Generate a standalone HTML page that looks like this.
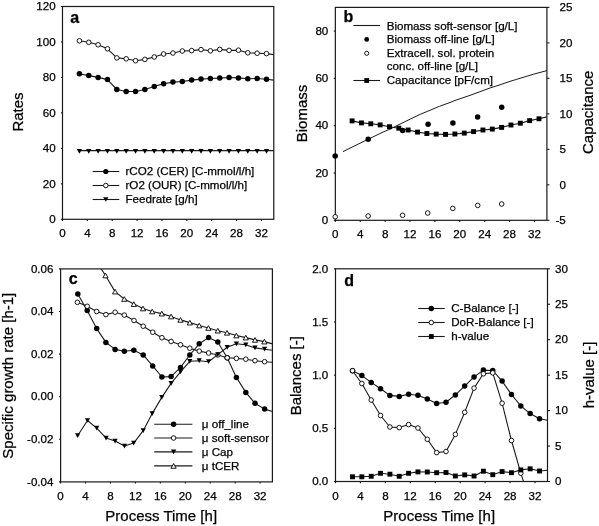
<!DOCTYPE html><html><head><meta charset="utf-8"><style>html,body{margin:0;padding:0;background:#fff;}svg{display:block;font-family:"Liberation Sans",sans-serif;}#w{width:599px;height:526px;will-change:transform;}text{stroke:#000;stroke-width:0.25px;}</style></head><body>
<div id="w"><svg width="599" height="526" viewBox="0 0 599 526">
<rect width="599" height="526" fill="#fff"/>
<defs>
<clipPath id="ca"><rect x="62.5" y="6.5" width="211.3" height="212.8"/></clipPath>
<clipPath id="cb"><rect x="335.35" y="7.4" width="211.55" height="212.9"/></clipPath>
<clipPath id="cc"><rect x="60.6" y="268.9" width="211.8" height="213"/></clipPath>
<clipPath id="cd"><rect x="335.5" y="268.8" width="212" height="212.7"/></clipPath>
</defs>
<rect x="62.5" y="6.5" width="211.3" height="212.8" fill="none" stroke="#1a1a1a" stroke-width="1.2"/>
<path d="M79.4,40.8 L88.76,42.3 L98.11,44.8 L107.47,48.8 L116.82,57.9 L126.18,58.8 L135.53,60.7 L144.88,59.4 L154.24,57 L163.6,54 L172.95,53 L182.31,51 L191.66,50.6 L201.02,49.6 L210.37,50.8 L219.73,49.4 L229.08,50.4 L238.44,50.2 L247.79,52.8 L257.14,53.2 L266.5,53.6 L273.8,54.6" fill="none" stroke="#1a1a1a" stroke-width="1.1" stroke-linejoin="round" clip-path="url(#ca)"/>
<path d="M79.4,73.8 L88.76,75.6 L98.11,77.4 L107.47,79.6 L116.82,89.5 L126.18,91.5 L135.53,91.5 L144.88,89.5 L154.24,86.4 L163.6,83.7 L172.95,82.1 L182.31,81.5 L191.66,80.1 L201.02,79.1 L210.37,78.5 L219.73,78.1 L229.08,77.5 L238.44,77.9 L247.79,78.7 L257.14,78.5 L266.5,79.3 L273.8,80.1" fill="none" stroke="#1a1a1a" stroke-width="1.1" stroke-linejoin="round" clip-path="url(#ca)"/>
<path d="M79.4,150.6 L273.8,150.6" fill="none" stroke="#1a1a1a" stroke-width="1.1" stroke-linejoin="round" clip-path="url(#ca)"/>
<circle cx="79.4" cy="40.8" r="2.3" fill="#fff" stroke="#000" stroke-width="0.9"/>
<circle cx="88.76" cy="42.3" r="2.3" fill="#fff" stroke="#000" stroke-width="0.9"/>
<circle cx="98.11" cy="44.8" r="2.3" fill="#fff" stroke="#000" stroke-width="0.9"/>
<circle cx="107.47" cy="48.8" r="2.3" fill="#fff" stroke="#000" stroke-width="0.9"/>
<circle cx="116.82" cy="57.9" r="2.3" fill="#fff" stroke="#000" stroke-width="0.9"/>
<circle cx="126.18" cy="58.8" r="2.3" fill="#fff" stroke="#000" stroke-width="0.9"/>
<circle cx="135.53" cy="60.7" r="2.3" fill="#fff" stroke="#000" stroke-width="0.9"/>
<circle cx="144.88" cy="59.4" r="2.3" fill="#fff" stroke="#000" stroke-width="0.9"/>
<circle cx="154.24" cy="57" r="2.3" fill="#fff" stroke="#000" stroke-width="0.9"/>
<circle cx="163.6" cy="54" r="2.3" fill="#fff" stroke="#000" stroke-width="0.9"/>
<circle cx="172.95" cy="53" r="2.3" fill="#fff" stroke="#000" stroke-width="0.9"/>
<circle cx="182.31" cy="51" r="2.3" fill="#fff" stroke="#000" stroke-width="0.9"/>
<circle cx="191.66" cy="50.6" r="2.3" fill="#fff" stroke="#000" stroke-width="0.9"/>
<circle cx="201.02" cy="49.6" r="2.3" fill="#fff" stroke="#000" stroke-width="0.9"/>
<circle cx="210.37" cy="50.8" r="2.3" fill="#fff" stroke="#000" stroke-width="0.9"/>
<circle cx="219.73" cy="49.4" r="2.3" fill="#fff" stroke="#000" stroke-width="0.9"/>
<circle cx="229.08" cy="50.4" r="2.3" fill="#fff" stroke="#000" stroke-width="0.9"/>
<circle cx="238.44" cy="50.2" r="2.3" fill="#fff" stroke="#000" stroke-width="0.9"/>
<circle cx="247.79" cy="52.8" r="2.3" fill="#fff" stroke="#000" stroke-width="0.9"/>
<circle cx="257.14" cy="53.2" r="2.3" fill="#fff" stroke="#000" stroke-width="0.9"/>
<circle cx="266.5" cy="53.6" r="2.3" fill="#fff" stroke="#000" stroke-width="0.9"/>
<circle cx="79.4" cy="73.8" r="2.75" fill="#000"/>
<circle cx="88.76" cy="75.6" r="2.75" fill="#000"/>
<circle cx="98.11" cy="77.4" r="2.75" fill="#000"/>
<circle cx="107.47" cy="79.6" r="2.75" fill="#000"/>
<circle cx="116.82" cy="89.5" r="2.75" fill="#000"/>
<circle cx="126.18" cy="91.5" r="2.75" fill="#000"/>
<circle cx="135.53" cy="91.5" r="2.75" fill="#000"/>
<circle cx="144.88" cy="89.5" r="2.75" fill="#000"/>
<circle cx="154.24" cy="86.4" r="2.75" fill="#000"/>
<circle cx="163.6" cy="83.7" r="2.75" fill="#000"/>
<circle cx="172.95" cy="82.1" r="2.75" fill="#000"/>
<circle cx="182.31" cy="81.5" r="2.75" fill="#000"/>
<circle cx="191.66" cy="80.1" r="2.75" fill="#000"/>
<circle cx="201.02" cy="79.1" r="2.75" fill="#000"/>
<circle cx="210.37" cy="78.5" r="2.75" fill="#000"/>
<circle cx="219.73" cy="78.1" r="2.75" fill="#000"/>
<circle cx="229.08" cy="77.5" r="2.75" fill="#000"/>
<circle cx="238.44" cy="77.9" r="2.75" fill="#000"/>
<circle cx="247.79" cy="78.7" r="2.75" fill="#000"/>
<circle cx="257.14" cy="78.5" r="2.75" fill="#000"/>
<circle cx="266.5" cy="79.3" r="2.75" fill="#000"/>
<path d="M76.8,149.06 L82,149.06 L79.4,153.74 Z" fill="#000"/>
<path d="M86.16,149.06 L91.36,149.06 L88.76,153.74 Z" fill="#000"/>
<path d="M95.51,149.06 L100.71,149.06 L98.11,153.74 Z" fill="#000"/>
<path d="M104.87,149.06 L110.06,149.06 L107.47,153.74 Z" fill="#000"/>
<path d="M114.22,149.06 L119.42,149.06 L116.82,153.74 Z" fill="#000"/>
<path d="M123.58,149.06 L128.78,149.06 L126.18,153.74 Z" fill="#000"/>
<path d="M132.93,149.06 L138.13,149.06 L135.53,153.74 Z" fill="#000"/>
<path d="M142.28,149.06 L147.48,149.06 L144.88,153.74 Z" fill="#000"/>
<path d="M151.64,149.06 L156.84,149.06 L154.24,153.74 Z" fill="#000"/>
<path d="M161,149.06 L166.2,149.06 L163.6,153.74 Z" fill="#000"/>
<path d="M170.35,149.06 L175.55,149.06 L172.95,153.74 Z" fill="#000"/>
<path d="M179.71,149.06 L184.91,149.06 L182.31,153.74 Z" fill="#000"/>
<path d="M189.06,149.06 L194.26,149.06 L191.66,153.74 Z" fill="#000"/>
<path d="M198.42,149.06 L203.62,149.06 L201.02,153.74 Z" fill="#000"/>
<path d="M207.77,149.06 L212.97,149.06 L210.37,153.74 Z" fill="#000"/>
<path d="M217.13,149.06 L222.33,149.06 L219.73,153.74 Z" fill="#000"/>
<path d="M226.48,149.06 L231.68,149.06 L229.08,153.74 Z" fill="#000"/>
<path d="M235.84,149.06 L241.03,149.06 L238.44,153.74 Z" fill="#000"/>
<path d="M245.19,149.06 L250.39,149.06 L247.79,153.74 Z" fill="#000"/>
<path d="M254.54,149.06 L259.75,149.06 L257.14,153.74 Z" fill="#000"/>
<path d="M263.9,149.06 L269.1,149.06 L266.5,153.74 Z" fill="#000"/>
<line x1="62.5" y1="219.3" x2="62.5" y2="221" stroke="#1a1a1a" stroke-width="1.1"/>
<text x="62.5" y="236.6" font-size="11.6" text-anchor="middle" font-weight="normal">0</text>
<line x1="87.36" y1="219.3" x2="87.36" y2="221" stroke="#1a1a1a" stroke-width="1.1"/>
<text x="87.36" y="236.6" font-size="11.6" text-anchor="middle" font-weight="normal">4</text>
<line x1="112.23" y1="219.3" x2="112.23" y2="221" stroke="#1a1a1a" stroke-width="1.1"/>
<text x="112.23" y="236.6" font-size="11.6" text-anchor="middle" font-weight="normal">8</text>
<line x1="137.09" y1="219.3" x2="137.09" y2="221" stroke="#1a1a1a" stroke-width="1.1"/>
<text x="137.09" y="236.6" font-size="11.6" text-anchor="middle" font-weight="normal">12</text>
<line x1="161.96" y1="219.3" x2="161.96" y2="221" stroke="#1a1a1a" stroke-width="1.1"/>
<text x="161.96" y="236.6" font-size="11.6" text-anchor="middle" font-weight="normal">16</text>
<line x1="186.82" y1="219.3" x2="186.82" y2="221" stroke="#1a1a1a" stroke-width="1.1"/>
<text x="186.82" y="236.6" font-size="11.6" text-anchor="middle" font-weight="normal">20</text>
<line x1="211.68" y1="219.3" x2="211.68" y2="221" stroke="#1a1a1a" stroke-width="1.1"/>
<text x="211.68" y="236.6" font-size="11.6" text-anchor="middle" font-weight="normal">24</text>
<line x1="236.55" y1="219.3" x2="236.55" y2="221" stroke="#1a1a1a" stroke-width="1.1"/>
<text x="236.55" y="236.6" font-size="11.6" text-anchor="middle" font-weight="normal">28</text>
<line x1="261.41" y1="219.3" x2="261.41" y2="221" stroke="#1a1a1a" stroke-width="1.1"/>
<text x="261.41" y="236.6" font-size="11.6" text-anchor="middle" font-weight="normal">32</text>
<line x1="60.9" y1="219.3" x2="62.5" y2="219.3" stroke="#1a1a1a" stroke-width="1.1"/>
<text x="55.6" y="223" font-size="11.6" text-anchor="end" font-weight="normal">0</text>
<line x1="60.9" y1="183.83" x2="62.5" y2="183.83" stroke="#1a1a1a" stroke-width="1.1"/>
<text x="55.6" y="187.53" font-size="11.6" text-anchor="end" font-weight="normal">20</text>
<line x1="60.9" y1="148.37" x2="62.5" y2="148.37" stroke="#1a1a1a" stroke-width="1.1"/>
<text x="55.6" y="152.07" font-size="11.6" text-anchor="end" font-weight="normal">40</text>
<line x1="60.9" y1="112.9" x2="62.5" y2="112.9" stroke="#1a1a1a" stroke-width="1.1"/>
<text x="55.6" y="116.6" font-size="11.6" text-anchor="end" font-weight="normal">60</text>
<line x1="60.9" y1="77.43" x2="62.5" y2="77.43" stroke="#1a1a1a" stroke-width="1.1"/>
<text x="55.6" y="81.13" font-size="11.6" text-anchor="end" font-weight="normal">80</text>
<line x1="60.9" y1="41.97" x2="62.5" y2="41.97" stroke="#1a1a1a" stroke-width="1.1"/>
<text x="55.6" y="45.67" font-size="11.6" text-anchor="end" font-weight="normal">100</text>
<line x1="60.9" y1="6.5" x2="62.5" y2="6.5" stroke="#1a1a1a" stroke-width="1.1"/>
<text x="55.6" y="10.2" font-size="11.6" text-anchor="end" font-weight="normal">120</text>
<text x="70.3" y="22.6" font-size="16" text-anchor="start" font-weight="bold">a</text>
<text x="23.4" y="112" font-size="15" text-anchor="middle" font-weight="normal" transform="rotate(-90 23.4 112)">Rates</text>
<line x1="92.6" y1="171.5" x2="119.3" y2="171.5" stroke="#1a1a1a" stroke-width="1.1"/>
<circle cx="105.8" cy="171.5" r="2.6" fill="#000"/>
<text x="125.5" y="175.1" font-size="11.6" text-anchor="start" font-weight="normal">rCO2 (CER) [C-mmol/l/h]</text>
<line x1="92.6" y1="185.5" x2="119.3" y2="185.5" stroke="#1a1a1a" stroke-width="1.1"/>
<circle cx="105.8" cy="185.5" r="2.25" fill="#fff" stroke="#000" stroke-width="0.9"/>
<text x="125.5" y="189.1" font-size="11.6" text-anchor="start" font-weight="normal">rO2 (OUR) [C-mmol/l/h]</text>
<line x1="92.6" y1="199.5" x2="119.3" y2="199.5" stroke="#1a1a1a" stroke-width="1.1"/>
<path d="M103.2,197.16 L108.4,197.16 L105.8,201.84 Z" fill="#000"/>
<text x="125.5" y="203.1" font-size="11.6" text-anchor="start" font-weight="normal">Feedrate [g/h]</text>
<rect x="335.35" y="7.4" width="211.55" height="212.9" fill="none" stroke="#1a1a1a" stroke-width="1.2"/>
<path d="M343,151.62 L358,144.19 L368.1,139.31 L383.1,132 L390,129.14 L400,124.12 L410.1,119.15 L420.1,114.41 L430.1,110.24 L439.6,106.26 L450,102.47 L455,100.45 L470,95.36 L490.1,87.95 L500,84.79 L510,81.37 L516.7,79.34 L533.4,74.23 L547.4,70.49" fill="none" stroke="#1a1a1a" stroke-width="1.0" stroke-linejoin="round" clip-path="url(#cb)"/>
<path d="M352.1,120.9 L361.45,122.9 L370.79,123.8 L380.14,124.9 L389.48,126.7 L398.83,128.2 L408.17,130 L417.52,132.1 L426.86,133.5 L436.21,134.1 L445.55,134.4 L454.9,134 L464.24,133.1 L473.59,131.6 L482.93,130 L492.28,129.1 L501.62,127.4 L510.97,125 L520.31,123.2 L529.65,120.6 L539,118.8 L546.9,116.9" fill="none" stroke="#1a1a1a" stroke-width="1.1" stroke-linejoin="round" clip-path="url(#cb)"/>
<rect x="349.65" y="118.45" width="4.9" height="4.9" fill="#000"/>
<rect x="359" y="120.45" width="4.9" height="4.9" fill="#000"/>
<rect x="368.34" y="121.35" width="4.9" height="4.9" fill="#000"/>
<rect x="377.69" y="122.45" width="4.9" height="4.9" fill="#000"/>
<rect x="387.03" y="124.25" width="4.9" height="4.9" fill="#000"/>
<rect x="396.38" y="125.75" width="4.9" height="4.9" fill="#000"/>
<rect x="405.72" y="127.55" width="4.9" height="4.9" fill="#000"/>
<rect x="415.07" y="129.65" width="4.9" height="4.9" fill="#000"/>
<rect x="424.41" y="131.05" width="4.9" height="4.9" fill="#000"/>
<rect x="433.76" y="131.65" width="4.9" height="4.9" fill="#000"/>
<rect x="443.1" y="131.95" width="4.9" height="4.9" fill="#000"/>
<rect x="452.45" y="131.55" width="4.9" height="4.9" fill="#000"/>
<rect x="461.79" y="130.65" width="4.9" height="4.9" fill="#000"/>
<rect x="471.14" y="129.15" width="4.9" height="4.9" fill="#000"/>
<rect x="480.48" y="127.55" width="4.9" height="4.9" fill="#000"/>
<rect x="489.83" y="126.65" width="4.9" height="4.9" fill="#000"/>
<rect x="499.17" y="124.95" width="4.9" height="4.9" fill="#000"/>
<rect x="508.52" y="122.55" width="4.9" height="4.9" fill="#000"/>
<rect x="517.86" y="120.75" width="4.9" height="4.9" fill="#000"/>
<rect x="527.2" y="118.15" width="4.9" height="4.9" fill="#000"/>
<rect x="536.55" y="116.35" width="4.9" height="4.9" fill="#000"/>
<circle cx="335.2" cy="156" r="2.75" fill="#000"/>
<circle cx="368.2" cy="139.3" r="2.75" fill="#000"/>
<circle cx="402.6" cy="130.4" r="2.75" fill="#000"/>
<circle cx="428.1" cy="124.2" r="2.75" fill="#000"/>
<circle cx="452.9" cy="123" r="2.75" fill="#000"/>
<circle cx="477.6" cy="116.9" r="2.75" fill="#000"/>
<circle cx="501.7" cy="107.2" r="2.75" fill="#000"/>
<circle cx="335.2" cy="216.8" r="2.3" fill="#fff" stroke="#000" stroke-width="0.9"/>
<circle cx="368.1" cy="216" r="2.3" fill="#fff" stroke="#000" stroke-width="0.9"/>
<circle cx="402.6" cy="215.3" r="2.3" fill="#fff" stroke="#000" stroke-width="0.9"/>
<circle cx="427.7" cy="213" r="2.3" fill="#fff" stroke="#000" stroke-width="0.9"/>
<circle cx="452.8" cy="208.4" r="2.3" fill="#fff" stroke="#000" stroke-width="0.9"/>
<circle cx="477.7" cy="205.4" r="2.3" fill="#fff" stroke="#000" stroke-width="0.9"/>
<circle cx="501.7" cy="204" r="2.3" fill="#fff" stroke="#000" stroke-width="0.9"/>
<line x1="335.35" y1="220.3" x2="335.35" y2="222" stroke="#1a1a1a" stroke-width="1.1"/>
<text x="335.35" y="237.6" font-size="11.6" text-anchor="middle" font-weight="normal">0</text>
<line x1="360.24" y1="220.3" x2="360.24" y2="222" stroke="#1a1a1a" stroke-width="1.1"/>
<text x="360.24" y="237.6" font-size="11.6" text-anchor="middle" font-weight="normal">4</text>
<line x1="385.13" y1="220.3" x2="385.13" y2="222" stroke="#1a1a1a" stroke-width="1.1"/>
<text x="385.13" y="237.6" font-size="11.6" text-anchor="middle" font-weight="normal">8</text>
<line x1="410.01" y1="220.3" x2="410.01" y2="222" stroke="#1a1a1a" stroke-width="1.1"/>
<text x="410.01" y="237.6" font-size="11.6" text-anchor="middle" font-weight="normal">12</text>
<line x1="434.9" y1="220.3" x2="434.9" y2="222" stroke="#1a1a1a" stroke-width="1.1"/>
<text x="434.9" y="237.6" font-size="11.6" text-anchor="middle" font-weight="normal">16</text>
<line x1="459.79" y1="220.3" x2="459.79" y2="222" stroke="#1a1a1a" stroke-width="1.1"/>
<text x="459.79" y="237.6" font-size="11.6" text-anchor="middle" font-weight="normal">20</text>
<line x1="484.68" y1="220.3" x2="484.68" y2="222" stroke="#1a1a1a" stroke-width="1.1"/>
<text x="484.68" y="237.6" font-size="11.6" text-anchor="middle" font-weight="normal">24</text>
<line x1="509.57" y1="220.3" x2="509.57" y2="222" stroke="#1a1a1a" stroke-width="1.1"/>
<text x="509.57" y="237.6" font-size="11.6" text-anchor="middle" font-weight="normal">28</text>
<line x1="534.45" y1="220.3" x2="534.45" y2="222" stroke="#1a1a1a" stroke-width="1.1"/>
<text x="534.45" y="237.6" font-size="11.6" text-anchor="middle" font-weight="normal">32</text>
<line x1="333.75" y1="220.3" x2="335.35" y2="220.3" stroke="#1a1a1a" stroke-width="1.1"/>
<text x="328.3" y="224" font-size="11.6" text-anchor="end" font-weight="normal">0</text>
<line x1="333.75" y1="172.99" x2="335.35" y2="172.99" stroke="#1a1a1a" stroke-width="1.1"/>
<text x="328.3" y="176.69" font-size="11.6" text-anchor="end" font-weight="normal">20</text>
<line x1="333.75" y1="125.68" x2="335.35" y2="125.68" stroke="#1a1a1a" stroke-width="1.1"/>
<text x="328.3" y="129.38" font-size="11.6" text-anchor="end" font-weight="normal">40</text>
<line x1="333.75" y1="78.37" x2="335.35" y2="78.37" stroke="#1a1a1a" stroke-width="1.1"/>
<text x="328.3" y="82.07" font-size="11.6" text-anchor="end" font-weight="normal">60</text>
<line x1="333.75" y1="31.06" x2="335.35" y2="31.06" stroke="#1a1a1a" stroke-width="1.1"/>
<text x="328.3" y="34.76" font-size="11.6" text-anchor="end" font-weight="normal">80</text>
<line x1="546.9" y1="220.3" x2="549.4" y2="220.3" stroke="#1a1a1a" stroke-width="1.1"/>
<text x="555.5" y="224" font-size="11.6" text-anchor="start" font-weight="normal">-5</text>
<line x1="546.9" y1="184.82" x2="549.4" y2="184.82" stroke="#1a1a1a" stroke-width="1.1"/>
<text x="559.5" y="188.52" font-size="11.6" text-anchor="start" font-weight="normal">0</text>
<line x1="546.9" y1="149.33" x2="549.4" y2="149.33" stroke="#1a1a1a" stroke-width="1.1"/>
<text x="559.5" y="153.03" font-size="11.6" text-anchor="start" font-weight="normal">5</text>
<line x1="546.9" y1="113.85" x2="549.4" y2="113.85" stroke="#1a1a1a" stroke-width="1.1"/>
<text x="559.5" y="117.55" font-size="11.6" text-anchor="start" font-weight="normal">10</text>
<line x1="546.9" y1="78.37" x2="549.4" y2="78.37" stroke="#1a1a1a" stroke-width="1.1"/>
<text x="559.5" y="82.07" font-size="11.6" text-anchor="start" font-weight="normal">15</text>
<line x1="546.9" y1="42.88" x2="549.4" y2="42.88" stroke="#1a1a1a" stroke-width="1.1"/>
<text x="559.5" y="46.58" font-size="11.6" text-anchor="start" font-weight="normal">20</text>
<line x1="546.9" y1="7.4" x2="549.4" y2="7.4" stroke="#1a1a1a" stroke-width="1.1"/>
<text x="559.5" y="11.1" font-size="11.6" text-anchor="start" font-weight="normal">25</text>
<text x="343.4" y="22.2" font-size="16" text-anchor="start" font-weight="bold">b</text>
<text x="306.5" y="113.5" font-size="15" text-anchor="middle" font-weight="normal" transform="rotate(-90 306.5 113.5)">Biomass</text>
<text x="593.3" y="112.3" font-size="15" text-anchor="middle" font-weight="normal" transform="rotate(-90 593.3 112.3)">Capacitance</text>
<line x1="353.4" y1="25.5" x2="380.1" y2="25.5" stroke="#1a1a1a" stroke-width="1.1"/>
<text x="386.7" y="29.6" font-size="11.6" text-anchor="start" font-weight="normal">Biomass soft-sensor [g/L]</text>
<circle cx="366.7" cy="39.4" r="2.4" fill="#000"/>
<text x="386.7" y="43.1" font-size="11.6" text-anchor="start" font-weight="normal">Biomass off-line [g/L]</text>
<circle cx="366.7" cy="53.3" r="2.05" fill="#fff" stroke="#000" stroke-width="0.9"/>
<text x="386.7" y="56.8" font-size="11.6" text-anchor="start" font-weight="normal">Extracell. sol. protein</text>
<text x="386.7" y="70.4" font-size="11.6" text-anchor="start" font-weight="normal">conc. off-line [g/L]</text>
<line x1="353.4" y1="80.5" x2="380.1" y2="80.5" stroke="#1a1a1a" stroke-width="1.1"/>
<rect x="364.3" y="78.1" width="4.8" height="4.8" fill="#000"/>
<text x="386.7" y="84.4" font-size="11.6" text-anchor="start" font-weight="normal">Capacitance [pF/cm]</text>
<rect x="60.6" y="268.9" width="211.8" height="213" fill="none" stroke="#1a1a1a" stroke-width="1.2"/>
<path d="M77.8,294 L87.2,310.5 L96.7,328.6 L105.9,342.4 L115.1,349.4 L124.3,351.2 L133.8,350.3 L143.2,354.9 L152.7,365.9 L161.9,377 L171.1,376.6 L180.5,367.4 L189.8,355 L199.2,343.8 L208.6,337.6 L217.8,342 L227.2,357.8 L236.4,377.4 L245.8,392.4 L255,403.3 L264.6,409.1 L272.4,411.5" fill="none" stroke="#1a1a1a" stroke-width="1.1" stroke-linejoin="round" clip-path="url(#cc)"/>
<circle cx="77.8" cy="294" r="2.75" fill="#000"/>
<circle cx="87.2" cy="310.5" r="2.75" fill="#000"/>
<circle cx="96.7" cy="328.6" r="2.75" fill="#000"/>
<circle cx="105.9" cy="342.4" r="2.75" fill="#000"/>
<circle cx="115.1" cy="349.4" r="2.75" fill="#000"/>
<circle cx="124.3" cy="351.2" r="2.75" fill="#000"/>
<circle cx="133.8" cy="350.3" r="2.75" fill="#000"/>
<circle cx="143.2" cy="354.9" r="2.75" fill="#000"/>
<circle cx="152.7" cy="365.9" r="2.75" fill="#000"/>
<circle cx="161.9" cy="377" r="2.75" fill="#000"/>
<circle cx="171.1" cy="376.6" r="2.75" fill="#000"/>
<circle cx="180.5" cy="367.4" r="2.75" fill="#000"/>
<circle cx="189.8" cy="355" r="2.75" fill="#000"/>
<circle cx="199.2" cy="343.8" r="2.75" fill="#000"/>
<circle cx="208.6" cy="337.6" r="2.75" fill="#000"/>
<circle cx="217.8" cy="342" r="2.75" fill="#000"/>
<circle cx="227.2" cy="357.8" r="2.75" fill="#000"/>
<circle cx="236.4" cy="377.4" r="2.75" fill="#000"/>
<circle cx="245.8" cy="392.4" r="2.75" fill="#000"/>
<circle cx="255" cy="403.3" r="2.75" fill="#000"/>
<circle cx="264.6" cy="409.1" r="2.75" fill="#000"/>
<path d="M77.4,302.3 L87.2,306.3 L96.7,311.5 L105.9,314.6 L115.1,312.2 L124.3,315.1 L134,320.5 L143.2,326.2 L152.7,332.2 L161.9,337.7 L171.1,341.5 L180.5,344.8 L189.8,348.2 L199.2,351.1 L208.6,353 L217.8,355 L227.2,357.8 L236.4,358.4 L245.8,359.2 L255,360.7 L264.6,361.7 L272.4,362.3" fill="none" stroke="#1a1a1a" stroke-width="1.1" stroke-linejoin="round" clip-path="url(#cc)"/>
<circle cx="77.4" cy="302.3" r="2.3" fill="#fff" stroke="#000" stroke-width="0.9"/>
<circle cx="87.2" cy="306.3" r="2.3" fill="#fff" stroke="#000" stroke-width="0.9"/>
<circle cx="96.7" cy="311.5" r="2.3" fill="#fff" stroke="#000" stroke-width="0.9"/>
<circle cx="105.9" cy="314.6" r="2.3" fill="#fff" stroke="#000" stroke-width="0.9"/>
<circle cx="115.1" cy="312.2" r="2.3" fill="#fff" stroke="#000" stroke-width="0.9"/>
<circle cx="124.3" cy="315.1" r="2.3" fill="#fff" stroke="#000" stroke-width="0.9"/>
<circle cx="134" cy="320.5" r="2.3" fill="#fff" stroke="#000" stroke-width="0.9"/>
<circle cx="143.2" cy="326.2" r="2.3" fill="#fff" stroke="#000" stroke-width="0.9"/>
<circle cx="152.7" cy="332.2" r="2.3" fill="#fff" stroke="#000" stroke-width="0.9"/>
<circle cx="161.9" cy="337.7" r="2.3" fill="#fff" stroke="#000" stroke-width="0.9"/>
<circle cx="171.1" cy="341.5" r="2.3" fill="#fff" stroke="#000" stroke-width="0.9"/>
<circle cx="180.5" cy="344.8" r="2.3" fill="#fff" stroke="#000" stroke-width="0.9"/>
<circle cx="189.8" cy="348.2" r="2.3" fill="#fff" stroke="#000" stroke-width="0.9"/>
<circle cx="199.2" cy="351.1" r="2.3" fill="#fff" stroke="#000" stroke-width="0.9"/>
<circle cx="208.6" cy="353" r="2.3" fill="#fff" stroke="#000" stroke-width="0.9"/>
<circle cx="217.8" cy="355" r="2.3" fill="#fff" stroke="#000" stroke-width="0.9"/>
<circle cx="227.2" cy="357.8" r="2.3" fill="#fff" stroke="#000" stroke-width="0.9"/>
<circle cx="236.4" cy="358.4" r="2.3" fill="#fff" stroke="#000" stroke-width="0.9"/>
<circle cx="245.8" cy="359.2" r="2.3" fill="#fff" stroke="#000" stroke-width="0.9"/>
<circle cx="255" cy="360.7" r="2.3" fill="#fff" stroke="#000" stroke-width="0.9"/>
<circle cx="264.6" cy="361.7" r="2.3" fill="#fff" stroke="#000" stroke-width="0.9"/>
<path d="M77.6,435.7 L87.5,420.5 L96.7,428.1 L106.1,438.1 L115.1,441.1 L124.5,446.1 L133.7,443.1 L143.2,430.7 L152.2,413.6 L161.8,397.4 L171.1,383.4 L180.5,371.9 L189.8,361.3 L199.2,360.7 L208.6,361.7 L217.8,354.6 L227.2,347.3 L236.4,343.8 L245.8,344.8 L255,347.9 L264.6,349.2 L272.4,350.2" fill="none" stroke="#1a1a1a" stroke-width="1.1" stroke-linejoin="round" clip-path="url(#cc)"/>
<path d="M75,433.36 L80.2,433.36 L77.6,438.04 Z" fill="#000"/>
<path d="M84.9,418.16 L90.1,418.16 L87.5,422.84 Z" fill="#000"/>
<path d="M94.1,425.76 L99.3,425.76 L96.7,430.44 Z" fill="#000"/>
<path d="M103.5,435.76 L108.7,435.76 L106.1,440.44 Z" fill="#000"/>
<path d="M112.5,438.76 L117.7,438.76 L115.1,443.44 Z" fill="#000"/>
<path d="M121.9,443.76 L127.1,443.76 L124.5,448.44 Z" fill="#000"/>
<path d="M131.1,440.76 L136.3,440.76 L133.7,445.44 Z" fill="#000"/>
<path d="M140.6,428.36 L145.8,428.36 L143.2,433.04 Z" fill="#000"/>
<path d="M149.6,411.26 L154.8,411.26 L152.2,415.94 Z" fill="#000"/>
<path d="M159.2,395.06 L164.4,395.06 L161.8,399.74 Z" fill="#000"/>
<path d="M168.5,381.06 L173.7,381.06 L171.1,385.74 Z" fill="#000"/>
<path d="M177.9,369.56 L183.1,369.56 L180.5,374.24 Z" fill="#000"/>
<path d="M187.2,358.96 L192.4,358.96 L189.8,363.64 Z" fill="#000"/>
<path d="M196.6,358.36 L201.8,358.36 L199.2,363.04 Z" fill="#000"/>
<path d="M206,359.36 L211.2,359.36 L208.6,364.04 Z" fill="#000"/>
<path d="M215.2,352.26 L220.4,352.26 L217.8,356.94 Z" fill="#000"/>
<path d="M224.6,344.96 L229.8,344.96 L227.2,349.64 Z" fill="#000"/>
<path d="M233.8,341.46 L239,341.46 L236.4,346.14 Z" fill="#000"/>
<path d="M243.2,342.46 L248.4,342.46 L245.8,347.14 Z" fill="#000"/>
<path d="M252.4,345.56 L257.6,345.56 L255,350.24 Z" fill="#000"/>
<path d="M262,346.86 L267.2,346.86 L264.6,351.54 Z" fill="#000"/>
<path d="M96.7,262 L105.5,275.5 L115.1,291.6 L124.3,299 L133.8,304.1 L143,308.5 L152.2,311.5 L161.8,313.6 L171.1,316.5 L180.5,319.9 L189.8,322.6 L199.2,325.5 L208.4,328 L217.8,330.7 L227,332.8 L236.4,335.5 L245.8,337.6 L255,339.9 L264.4,341.6 L272.4,343.9" fill="none" stroke="#1a1a1a" stroke-width="1.1" stroke-linejoin="round" clip-path="url(#cc)"/>
<g clip-path="url(#cc)">
<path d="M94.1,264.34 L99.3,264.34 L96.7,259.66 Z" fill="#fff" stroke="#000" stroke-width="0.9" stroke-linejoin="miter"/>
<path d="M102.9,277.84 L108.1,277.84 L105.5,273.16 Z" fill="#fff" stroke="#000" stroke-width="0.9" stroke-linejoin="miter"/>
<path d="M112.5,293.94 L117.7,293.94 L115.1,289.26 Z" fill="#fff" stroke="#000" stroke-width="0.9" stroke-linejoin="miter"/>
<path d="M121.7,301.34 L126.9,301.34 L124.3,296.66 Z" fill="#fff" stroke="#000" stroke-width="0.9" stroke-linejoin="miter"/>
<path d="M131.2,306.44 L136.4,306.44 L133.8,301.76 Z" fill="#fff" stroke="#000" stroke-width="0.9" stroke-linejoin="miter"/>
<path d="M140.4,310.84 L145.6,310.84 L143,306.16 Z" fill="#fff" stroke="#000" stroke-width="0.9" stroke-linejoin="miter"/>
<path d="M149.6,313.84 L154.8,313.84 L152.2,309.16 Z" fill="#fff" stroke="#000" stroke-width="0.9" stroke-linejoin="miter"/>
<path d="M159.2,315.94 L164.4,315.94 L161.8,311.26 Z" fill="#fff" stroke="#000" stroke-width="0.9" stroke-linejoin="miter"/>
<path d="M168.5,318.84 L173.7,318.84 L171.1,314.16 Z" fill="#fff" stroke="#000" stroke-width="0.9" stroke-linejoin="miter"/>
<path d="M177.9,322.24 L183.1,322.24 L180.5,317.56 Z" fill="#fff" stroke="#000" stroke-width="0.9" stroke-linejoin="miter"/>
<path d="M187.2,324.94 L192.4,324.94 L189.8,320.26 Z" fill="#fff" stroke="#000" stroke-width="0.9" stroke-linejoin="miter"/>
<path d="M196.6,327.84 L201.8,327.84 L199.2,323.16 Z" fill="#fff" stroke="#000" stroke-width="0.9" stroke-linejoin="miter"/>
<path d="M205.8,330.34 L211,330.34 L208.4,325.66 Z" fill="#fff" stroke="#000" stroke-width="0.9" stroke-linejoin="miter"/>
<path d="M215.2,333.04 L220.4,333.04 L217.8,328.36 Z" fill="#fff" stroke="#000" stroke-width="0.9" stroke-linejoin="miter"/>
<path d="M224.4,335.14 L229.6,335.14 L227,330.46 Z" fill="#fff" stroke="#000" stroke-width="0.9" stroke-linejoin="miter"/>
<path d="M233.8,337.84 L239,337.84 L236.4,333.16 Z" fill="#fff" stroke="#000" stroke-width="0.9" stroke-linejoin="miter"/>
<path d="M243.2,339.94 L248.4,339.94 L245.8,335.26 Z" fill="#fff" stroke="#000" stroke-width="0.9" stroke-linejoin="miter"/>
<path d="M252.4,342.24 L257.6,342.24 L255,337.56 Z" fill="#fff" stroke="#000" stroke-width="0.9" stroke-linejoin="miter"/>
<path d="M261.8,343.94 L267,343.94 L264.4,339.26 Z" fill="#fff" stroke="#000" stroke-width="0.9" stroke-linejoin="miter"/>
</g>
<line x1="60.6" y1="481.9" x2="60.6" y2="483.6" stroke="#1a1a1a" stroke-width="1.1"/>
<text x="60.6" y="499.9" font-size="11.6" text-anchor="middle" font-weight="normal">0</text>
<line x1="85.54" y1="481.9" x2="85.54" y2="483.6" stroke="#1a1a1a" stroke-width="1.1"/>
<text x="85.54" y="499.9" font-size="11.6" text-anchor="middle" font-weight="normal">4</text>
<line x1="110.48" y1="481.9" x2="110.48" y2="483.6" stroke="#1a1a1a" stroke-width="1.1"/>
<text x="110.48" y="499.9" font-size="11.6" text-anchor="middle" font-weight="normal">8</text>
<line x1="135.42" y1="481.9" x2="135.42" y2="483.6" stroke="#1a1a1a" stroke-width="1.1"/>
<text x="135.42" y="499.9" font-size="11.6" text-anchor="middle" font-weight="normal">12</text>
<line x1="160.36" y1="481.9" x2="160.36" y2="483.6" stroke="#1a1a1a" stroke-width="1.1"/>
<text x="160.36" y="499.9" font-size="11.6" text-anchor="middle" font-weight="normal">16</text>
<line x1="185.3" y1="481.9" x2="185.3" y2="483.6" stroke="#1a1a1a" stroke-width="1.1"/>
<text x="185.3" y="499.9" font-size="11.6" text-anchor="middle" font-weight="normal">20</text>
<line x1="210.24" y1="481.9" x2="210.24" y2="483.6" stroke="#1a1a1a" stroke-width="1.1"/>
<text x="210.24" y="499.9" font-size="11.6" text-anchor="middle" font-weight="normal">24</text>
<line x1="235.18" y1="481.9" x2="235.18" y2="483.6" stroke="#1a1a1a" stroke-width="1.1"/>
<text x="235.18" y="499.9" font-size="11.6" text-anchor="middle" font-weight="normal">28</text>
<line x1="260.12" y1="481.9" x2="260.12" y2="483.6" stroke="#1a1a1a" stroke-width="1.1"/>
<text x="260.12" y="499.9" font-size="11.6" text-anchor="middle" font-weight="normal">32</text>
<line x1="59" y1="481.9" x2="60.6" y2="481.9" stroke="#1a1a1a" stroke-width="1.1"/>
<text x="53.5" y="485.6" font-size="11.6" text-anchor="end" font-weight="normal">-0.04</text>
<line x1="59" y1="439.3" x2="60.6" y2="439.3" stroke="#1a1a1a" stroke-width="1.1"/>
<text x="53.5" y="443" font-size="11.6" text-anchor="end" font-weight="normal">-0.02</text>
<line x1="59" y1="396.7" x2="60.6" y2="396.7" stroke="#1a1a1a" stroke-width="1.1"/>
<text x="53.5" y="400.4" font-size="11.6" text-anchor="end" font-weight="normal">0.00</text>
<line x1="59" y1="354.1" x2="60.6" y2="354.1" stroke="#1a1a1a" stroke-width="1.1"/>
<text x="53.5" y="357.8" font-size="11.6" text-anchor="end" font-weight="normal">0.02</text>
<line x1="59" y1="311.5" x2="60.6" y2="311.5" stroke="#1a1a1a" stroke-width="1.1"/>
<text x="53.5" y="315.2" font-size="11.6" text-anchor="end" font-weight="normal">0.04</text>
<line x1="59" y1="268.9" x2="60.6" y2="268.9" stroke="#1a1a1a" stroke-width="1.1"/>
<text x="53.5" y="272.6" font-size="11.6" text-anchor="end" font-weight="normal">0.06</text>
<text x="68.8" y="284.2" font-size="16" text-anchor="start" font-weight="bold">c</text>
<text x="12.8" y="375.7" font-size="15" text-anchor="middle" font-weight="normal" transform="rotate(-90 12.8 375.7)">Specific growth rate [h-1]</text>
<text x="161.2" y="521" font-size="15" text-anchor="middle" font-weight="normal">Process Time [h]</text>
<line x1="154.2" y1="424.2" x2="192.4" y2="424.2" stroke="#1a1a1a" stroke-width="1.1"/>
<circle cx="173.6" cy="424.2" r="2.7" fill="#000"/>
<text x="201.8" y="427.8" font-size="11.6" text-anchor="start" font-weight="normal">μ off_line</text>
<line x1="154.2" y1="438" x2="192.4" y2="438" stroke="#1a1a1a" stroke-width="1.1"/>
<circle cx="173.6" cy="438" r="2.3" fill="#fff" stroke="#000" stroke-width="0.9"/>
<text x="201.8" y="441.6" font-size="11.6" text-anchor="start" font-weight="normal">μ soft-sensor</text>
<line x1="154.2" y1="451.9" x2="192.4" y2="451.9" stroke="#1a1a1a" stroke-width="1.1"/>
<path d="M170.9,449.47 L176.3,449.47 L173.6,454.33 Z" fill="#000"/>
<text x="201.8" y="455.5" font-size="11.6" text-anchor="start" font-weight="normal">μ Cap</text>
<line x1="154.2" y1="465.9" x2="192.4" y2="465.9" stroke="#1a1a1a" stroke-width="1.1"/>
<path d="M171,468.24 L176.2,468.24 L173.6,463.56 Z" fill="#fff" stroke="#000" stroke-width="0.9" stroke-linejoin="miter"/>
<text x="201.8" y="469.5" font-size="11.6" text-anchor="start" font-weight="normal">μ tCER</text>
<rect x="335.5" y="268.8" width="212" height="212.7" fill="none" stroke="#1a1a1a" stroke-width="1.2"/>
<path d="M352.5,370.7 L361.85,375.6 L371.2,382.4 L380.55,388.8 L389.9,395.4 L399.25,396.4 L408.6,394.3 L417.95,395.3 L427.3,399.1 L436.65,403.5 L446,402.2 L455.35,394.9 L464.7,386.1 L474.05,376.9 L483.4,370.1 L492.75,370.5 L502.1,381.1 L511.45,394.5 L520.8,405.9 L530.15,413.6 L539.5,418.8 L547.5,420.2" fill="none" stroke="#1a1a1a" stroke-width="1.1" stroke-linejoin="round" clip-path="url(#cd)"/>
<circle cx="352.5" cy="370.7" r="2.75" fill="#000"/>
<circle cx="361.85" cy="375.6" r="2.75" fill="#000"/>
<circle cx="371.2" cy="382.4" r="2.75" fill="#000"/>
<circle cx="380.55" cy="388.8" r="2.75" fill="#000"/>
<circle cx="389.9" cy="395.4" r="2.75" fill="#000"/>
<circle cx="399.25" cy="396.4" r="2.75" fill="#000"/>
<circle cx="408.6" cy="394.3" r="2.75" fill="#000"/>
<circle cx="417.95" cy="395.3" r="2.75" fill="#000"/>
<circle cx="427.3" cy="399.1" r="2.75" fill="#000"/>
<circle cx="436.65" cy="403.5" r="2.75" fill="#000"/>
<circle cx="446" cy="402.2" r="2.75" fill="#000"/>
<circle cx="455.35" cy="394.9" r="2.75" fill="#000"/>
<circle cx="464.7" cy="386.1" r="2.75" fill="#000"/>
<circle cx="474.05" cy="376.9" r="2.75" fill="#000"/>
<circle cx="483.4" cy="370.1" r="2.75" fill="#000"/>
<circle cx="492.75" cy="370.5" r="2.75" fill="#000"/>
<circle cx="502.1" cy="381.1" r="2.75" fill="#000"/>
<circle cx="511.45" cy="394.5" r="2.75" fill="#000"/>
<circle cx="520.8" cy="405.9" r="2.75" fill="#000"/>
<circle cx="530.15" cy="413.6" r="2.75" fill="#000"/>
<circle cx="539.5" cy="418.8" r="2.75" fill="#000"/>
<path d="M352.5,370.7 L361.85,383.5 L371.2,400 L380.55,415.5 L389.9,427 L399.25,427.6 L408.6,424.6 L417.95,428 L427.3,439.3 L436.65,452.6 L446,451.5 L455.35,434.4 L464.7,412.3 L474.05,388.1 L483.4,373.8 L492.75,372.9 L502.1,403.2 L511.45,440.5 L520.8,473.2 L524.6,485" fill="none" stroke="#1a1a1a" stroke-width="1.1" stroke-linejoin="round" clip-path="url(#cd)"/>
<circle cx="352.5" cy="370.7" r="2.3" fill="#fff" stroke="#000" stroke-width="0.9"/>
<circle cx="361.85" cy="383.5" r="2.3" fill="#fff" stroke="#000" stroke-width="0.9"/>
<circle cx="371.2" cy="400" r="2.3" fill="#fff" stroke="#000" stroke-width="0.9"/>
<circle cx="380.55" cy="415.5" r="2.3" fill="#fff" stroke="#000" stroke-width="0.9"/>
<circle cx="389.9" cy="427" r="2.3" fill="#fff" stroke="#000" stroke-width="0.9"/>
<circle cx="399.25" cy="427.6" r="2.3" fill="#fff" stroke="#000" stroke-width="0.9"/>
<circle cx="408.6" cy="424.6" r="2.3" fill="#fff" stroke="#000" stroke-width="0.9"/>
<circle cx="417.95" cy="428" r="2.3" fill="#fff" stroke="#000" stroke-width="0.9"/>
<circle cx="427.3" cy="439.3" r="2.3" fill="#fff" stroke="#000" stroke-width="0.9"/>
<circle cx="436.65" cy="452.6" r="2.3" fill="#fff" stroke="#000" stroke-width="0.9"/>
<circle cx="446" cy="451.5" r="2.3" fill="#fff" stroke="#000" stroke-width="0.9"/>
<circle cx="455.35" cy="434.4" r="2.3" fill="#fff" stroke="#000" stroke-width="0.9"/>
<circle cx="464.7" cy="412.3" r="2.3" fill="#fff" stroke="#000" stroke-width="0.9"/>
<circle cx="474.05" cy="388.1" r="2.3" fill="#fff" stroke="#000" stroke-width="0.9"/>
<circle cx="483.4" cy="373.8" r="2.3" fill="#fff" stroke="#000" stroke-width="0.9"/>
<circle cx="492.75" cy="372.9" r="2.3" fill="#fff" stroke="#000" stroke-width="0.9"/>
<circle cx="502.1" cy="403.2" r="2.3" fill="#fff" stroke="#000" stroke-width="0.9"/>
<circle cx="511.45" cy="440.5" r="2.3" fill="#fff" stroke="#000" stroke-width="0.9"/>
<circle cx="520.8" cy="473.2" r="2.3" fill="#fff" stroke="#000" stroke-width="0.9"/>
<path d="M352.5,476.8 L361.85,476.8 L371.2,476.3 L380.55,473.3 L389.9,474.2 L399.25,476.3 L408.6,473.3 L417.95,471.9 L427.3,472 L436.65,472.7 L446,472.5 L455.35,476 L464.7,474.9 L474.05,476 L483.4,471.2 L492.75,474.7 L502.1,471.6 L511.45,472.7 L520.8,469.9 L530.15,468.8 L539.5,471 L547.5,470.3" fill="none" stroke="#1a1a1a" stroke-width="1.1" stroke-linejoin="round" clip-path="url(#cd)"/>
<rect x="350.05" y="474.35" width="4.9" height="4.9" fill="#000"/>
<rect x="359.4" y="474.35" width="4.9" height="4.9" fill="#000"/>
<rect x="368.75" y="473.85" width="4.9" height="4.9" fill="#000"/>
<rect x="378.1" y="470.85" width="4.9" height="4.9" fill="#000"/>
<rect x="387.45" y="471.75" width="4.9" height="4.9" fill="#000"/>
<rect x="396.8" y="473.85" width="4.9" height="4.9" fill="#000"/>
<rect x="406.15" y="470.85" width="4.9" height="4.9" fill="#000"/>
<rect x="415.5" y="469.45" width="4.9" height="4.9" fill="#000"/>
<rect x="424.85" y="469.55" width="4.9" height="4.9" fill="#000"/>
<rect x="434.2" y="470.25" width="4.9" height="4.9" fill="#000"/>
<rect x="443.55" y="470.05" width="4.9" height="4.9" fill="#000"/>
<rect x="452.9" y="473.55" width="4.9" height="4.9" fill="#000"/>
<rect x="462.25" y="472.45" width="4.9" height="4.9" fill="#000"/>
<rect x="471.6" y="473.55" width="4.9" height="4.9" fill="#000"/>
<rect x="480.95" y="468.75" width="4.9" height="4.9" fill="#000"/>
<rect x="490.3" y="472.25" width="4.9" height="4.9" fill="#000"/>
<rect x="499.65" y="469.15" width="4.9" height="4.9" fill="#000"/>
<rect x="509" y="470.25" width="4.9" height="4.9" fill="#000"/>
<rect x="518.35" y="467.45" width="4.9" height="4.9" fill="#000"/>
<rect x="527.7" y="466.35" width="4.9" height="4.9" fill="#000"/>
<rect x="537.05" y="468.55" width="4.9" height="4.9" fill="#000"/>
<line x1="335.5" y1="481.5" x2="335.5" y2="483.2" stroke="#1a1a1a" stroke-width="1.1"/>
<text x="335.5" y="499.5" font-size="11.6" text-anchor="middle" font-weight="normal">0</text>
<line x1="360.44" y1="481.5" x2="360.44" y2="483.2" stroke="#1a1a1a" stroke-width="1.1"/>
<text x="360.44" y="499.5" font-size="11.6" text-anchor="middle" font-weight="normal">4</text>
<line x1="385.38" y1="481.5" x2="385.38" y2="483.2" stroke="#1a1a1a" stroke-width="1.1"/>
<text x="385.38" y="499.5" font-size="11.6" text-anchor="middle" font-weight="normal">8</text>
<line x1="410.32" y1="481.5" x2="410.32" y2="483.2" stroke="#1a1a1a" stroke-width="1.1"/>
<text x="410.32" y="499.5" font-size="11.6" text-anchor="middle" font-weight="normal">12</text>
<line x1="435.26" y1="481.5" x2="435.26" y2="483.2" stroke="#1a1a1a" stroke-width="1.1"/>
<text x="435.26" y="499.5" font-size="11.6" text-anchor="middle" font-weight="normal">16</text>
<line x1="460.2" y1="481.5" x2="460.2" y2="483.2" stroke="#1a1a1a" stroke-width="1.1"/>
<text x="460.2" y="499.5" font-size="11.6" text-anchor="middle" font-weight="normal">20</text>
<line x1="485.14" y1="481.5" x2="485.14" y2="483.2" stroke="#1a1a1a" stroke-width="1.1"/>
<text x="485.14" y="499.5" font-size="11.6" text-anchor="middle" font-weight="normal">24</text>
<line x1="510.08" y1="481.5" x2="510.08" y2="483.2" stroke="#1a1a1a" stroke-width="1.1"/>
<text x="510.08" y="499.5" font-size="11.6" text-anchor="middle" font-weight="normal">28</text>
<line x1="535.02" y1="481.5" x2="535.02" y2="483.2" stroke="#1a1a1a" stroke-width="1.1"/>
<text x="535.02" y="499.5" font-size="11.6" text-anchor="middle" font-weight="normal">32</text>
<line x1="333.9" y1="481.5" x2="335.5" y2="481.5" stroke="#1a1a1a" stroke-width="1.1"/>
<text x="328.3" y="485.2" font-size="11.6" text-anchor="end" font-weight="normal">0.0</text>
<line x1="333.9" y1="428.32" x2="335.5" y2="428.32" stroke="#1a1a1a" stroke-width="1.1"/>
<text x="328.3" y="432.02" font-size="11.6" text-anchor="end" font-weight="normal">0.5</text>
<line x1="333.9" y1="375.15" x2="335.5" y2="375.15" stroke="#1a1a1a" stroke-width="1.1"/>
<text x="328.3" y="378.85" font-size="11.6" text-anchor="end" font-weight="normal">1.0</text>
<line x1="333.9" y1="321.98" x2="335.5" y2="321.98" stroke="#1a1a1a" stroke-width="1.1"/>
<text x="328.3" y="325.68" font-size="11.6" text-anchor="end" font-weight="normal">1.5</text>
<line x1="333.9" y1="268.8" x2="335.5" y2="268.8" stroke="#1a1a1a" stroke-width="1.1"/>
<text x="328.3" y="272.5" font-size="11.6" text-anchor="end" font-weight="normal">2.0</text>
<line x1="547.5" y1="481.5" x2="550" y2="481.5" stroke="#1a1a1a" stroke-width="1.1"/>
<text x="555" y="485.2" font-size="11.6" text-anchor="start" font-weight="normal">0</text>
<line x1="547.5" y1="446.05" x2="550" y2="446.05" stroke="#1a1a1a" stroke-width="1.1"/>
<text x="555" y="449.75" font-size="11.6" text-anchor="start" font-weight="normal">5</text>
<line x1="547.5" y1="410.6" x2="550" y2="410.6" stroke="#1a1a1a" stroke-width="1.1"/>
<text x="555" y="414.3" font-size="11.6" text-anchor="start" font-weight="normal">10</text>
<line x1="547.5" y1="375.15" x2="550" y2="375.15" stroke="#1a1a1a" stroke-width="1.1"/>
<text x="555" y="378.85" font-size="11.6" text-anchor="start" font-weight="normal">15</text>
<line x1="547.5" y1="339.7" x2="550" y2="339.7" stroke="#1a1a1a" stroke-width="1.1"/>
<text x="555" y="343.4" font-size="11.6" text-anchor="start" font-weight="normal">20</text>
<line x1="547.5" y1="304.25" x2="550" y2="304.25" stroke="#1a1a1a" stroke-width="1.1"/>
<text x="555" y="307.95" font-size="11.6" text-anchor="start" font-weight="normal">25</text>
<line x1="547.5" y1="268.8" x2="550" y2="268.8" stroke="#1a1a1a" stroke-width="1.1"/>
<text x="555" y="272.5" font-size="11.6" text-anchor="start" font-weight="normal">30</text>
<text x="344.3" y="285.9" font-size="16" text-anchor="start" font-weight="bold">d</text>
<text x="300.9" y="375.7" font-size="15" text-anchor="middle" font-weight="normal" transform="rotate(-90 300.9 375.7)">Balances [-]</text>
<text x="594.1" y="375" font-size="15" text-anchor="middle" font-weight="normal" transform="rotate(-90 594.1 375)">h-value [-]</text>
<text x="439.2" y="521" font-size="15" text-anchor="middle" font-weight="normal">Process Time [h]</text>
<line x1="418.2" y1="308.5" x2="444.7" y2="308.5" stroke="#1a1a1a" stroke-width="1.1"/>
<circle cx="431.3" cy="308.5" r="2.7" fill="#000"/>
<text x="451.2" y="312.1" font-size="11.6" text-anchor="start" font-weight="normal">C-Balance [-]</text>
<line x1="418.2" y1="322.5" x2="444.7" y2="322.5" stroke="#1a1a1a" stroke-width="1.1"/>
<circle cx="431.3" cy="322.5" r="2.25" fill="#fff" stroke="#000" stroke-width="0.9"/>
<text x="451.2" y="326.1" font-size="11.6" text-anchor="start" font-weight="normal">DoR-Balance [-]</text>
<line x1="418.2" y1="336.5" x2="444.7" y2="336.5" stroke="#1a1a1a" stroke-width="1.1"/>
<rect x="428.9" y="334.1" width="4.8" height="4.8" fill="#000"/>
<text x="451.2" y="340.1" font-size="11.6" text-anchor="start" font-weight="normal">h-value</text>
</svg></div></body></html>
